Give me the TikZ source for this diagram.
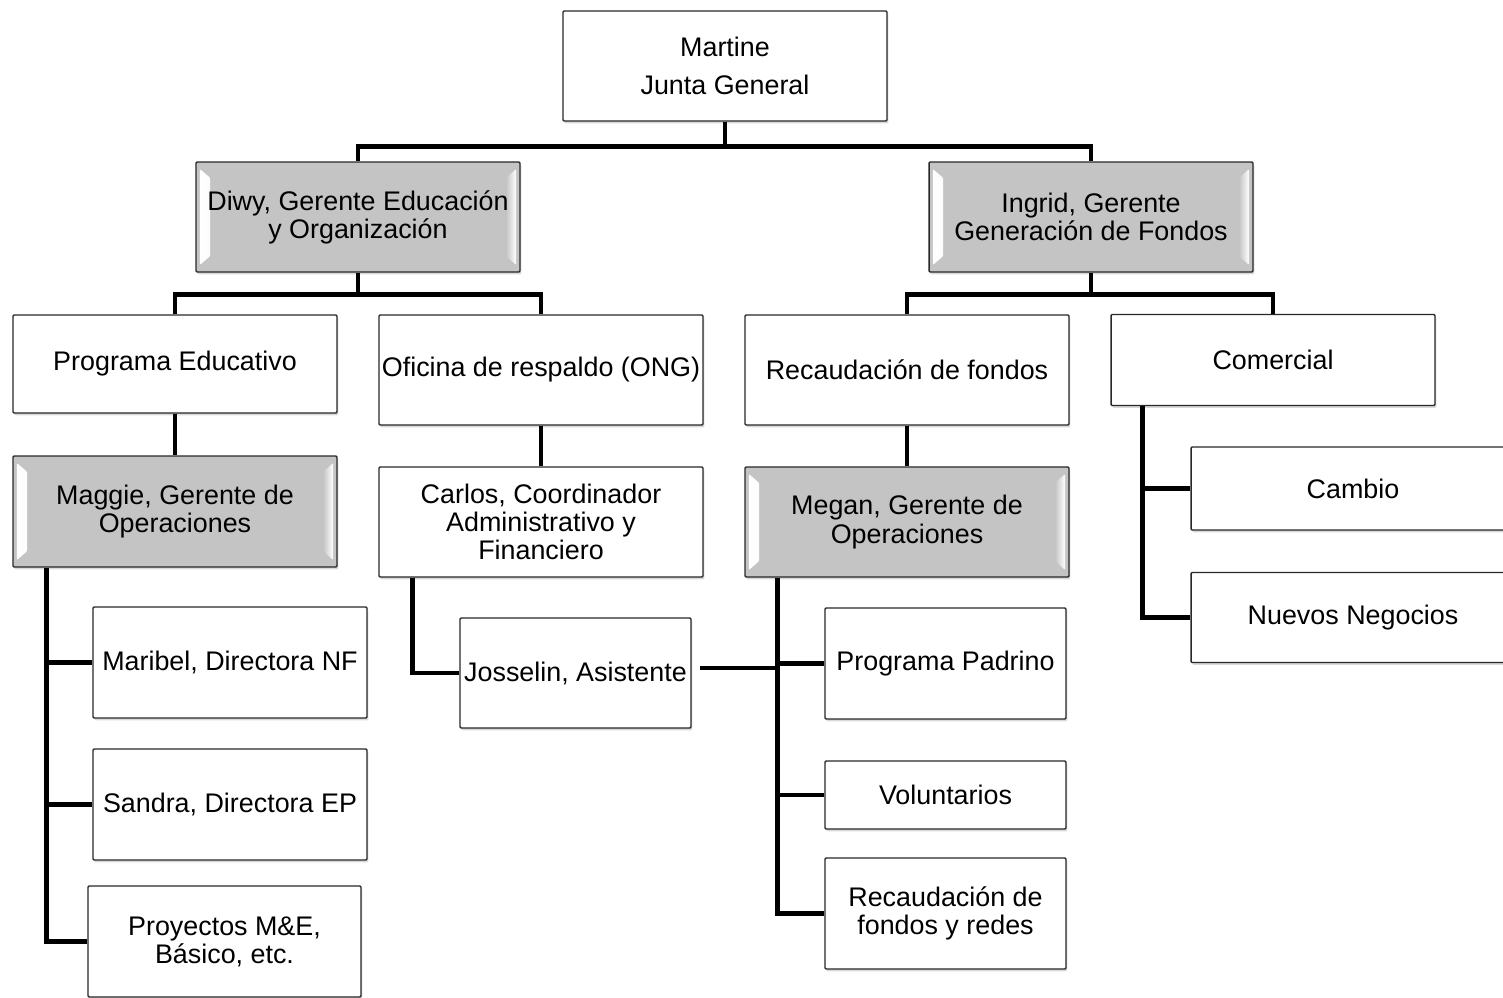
\documentclass[tikz,border=0pt]{standalone}
\usepackage{fontspec}
\setmainfont{Liberation Sans}
\usepackage{tikz}
\usetikzlibrary{calc,shadows,positioning}
\definecolor{boxgray}{RGB}{196,196,196}
\definecolor{boxline}{RGB}{40,40,40}
\tikzset{
orgbox/.style={draw=boxline, line width=0.8pt, rounded corners=0.6pt, fill=white, align=center, inner sep=1pt,
  font=\fontsize{15.3}{16}\selectfont,
  drop shadow={shadow xshift=0.8pt, shadow yshift=-1.3pt, opacity=0.3}},
leadbox/.style={orgbox, fill=boxgray,
  path picture={
    \shade[left color=white, right color=boxgray]
      ([xshift=2.2pt,yshift=-4pt]path picture bounding box.north west) -- ([xshift=8pt,yshift=-9pt]path picture bounding box.north west)
      -- ([xshift=8pt,yshift=9pt]path picture bounding box.south west) -- ([xshift=2.2pt,yshift=4pt]path picture bounding box.south west) -- cycle;
    \shade[left color=boxgray, right color=white]
      ([xshift=-2.2pt,yshift=-4pt]path picture bounding box.north east) -- ([xshift=-8pt,yshift=-9pt]path picture bounding box.north east)
      -- ([xshift=-8pt,yshift=9pt]path picture bounding box.south east) -- ([xshift=-2.2pt,yshift=4pt]path picture bounding box.south east) -- cycle;
  }},
conn/.style={draw=black, line width=2.8pt},
thinconn/.style={draw=black, line width=1.8pt}
}
\begin{document}
\begin{tikzpicture}[x=0.02cm, y=-0.02cm]
\clip (0,0) rectangle (1503,997);
% top level
\node[orgbox, minimum width=6.48cm, minimum height=2.2cm] (martine) at (725,66) {Martine\\[5.5pt]Junta General};
\node[leadbox, minimum width=6.48cm, minimum height=2.2cm] (diwy) at (358,217) {Diwy, Gerente Educación\\y Organización};
\node[leadbox, minimum width=6.48cm, minimum height=2.2cm] (ingrid) at (1091,217) {Ingrid, Gerente\\Generación de Fondos};
% departments
\node[orgbox, minimum width=6.48cm, minimum height=1.96cm] (prog) at (175,364) {Programa Educativo};
\node[orgbox, minimum width=6.48cm, minimum height=2.2cm] (ofic) at (541,370) {Oficina de respaldo (ONG)};
\node[orgbox, minimum width=6.48cm, minimum height=2.2cm] (recaud) at (907,370) {Recaudación de fondos};
\node[orgbox, minimum width=6.48cm, minimum height=1.82cm] (comer) at (1273,360) {Comercial};
\node[leadbox, minimum width=6.48cm, minimum height=2.22cm] (maggie) at (175,511.5) {Maggie, Gerente de\\Operaciones};
\node[orgbox, minimum width=6.48cm, minimum height=2.2cm] (carlos) at (541,522) {Carlos, Coordinador\\Administrativo y\\Financiero};
\node[leadbox, minimum width=6.48cm, minimum height=2.2cm] (megan) at (907,522) {Megan, Gerente de\\Operaciones};
\node[orgbox, minimum width=6.48cm, minimum height=1.66cm] (cambio) at (1353,488.5) {Cambio};
\node[orgbox, minimum width=6.48cm, minimum height=1.8cm] (nuevos) at (1353,617.5) {Nuevos Negocios};
% staff
\node[orgbox, minimum width=5.48cm, minimum height=2.22cm] (maribel) at (230,662.5) {Maribel, Directora NF};
\node[orgbox, minimum width=5.48cm, minimum height=2.22cm] (sandra) at (230,804.5) {Sandra, Directora EP};
\node[orgbox, minimum width=5.46cm, minimum height=2.22cm] (proy) at (224.5,941.5) {Proyectos M\&E,\\Básico, etc.};
\node[orgbox, minimum width=4.62cm, minimum height=2.2cm] (jos) at (575.5,673) {Josselin, Asistente};
\node[orgbox, minimum width=4.82cm, minimum height=2.22cm] (padrino) at (945.5,663.5) {Programa Padrino};
\node[orgbox, minimum width=4.82cm, minimum height=1.36cm] (volunt) at (945.5,795) {Voluntarios};
\node[orgbox, minimum width=4.82cm, minimum height=2.22cm] (redes) at (945.5,913.5) {Recaudación de\\fondos y redes};
% bus points
\coordinate (topbus) at ($(martine.south)+(0,25)$);
\coordinate (diwybus) at ($(diwy.south)+(0,22)$);
\coordinate (ingbus) at ($(ingrid.south)+(0,22)$);
\coordinate (magbus) at ($(maggie.south west)+(34,0)$);
\coordinate (carbus) at ($(carlos.south west)+(34,0)$);
\coordinate (megbus) at ($(megan.south west)+(33,0)$);
\coordinate (combus) at ($(comer.south west)+(32,0)$);
% connectors
\draw[conn] (martine) -- (topbus);
\draw[conn] (diwy.north) |- (topbus) -| (ingrid.north);
\draw[conn] (diwy) -- (diwybus);
\draw[conn] (prog.north) |- (diwybus) -| (ofic.north);
\draw[conn] (ingrid) -- (ingbus);
\draw[conn] (recaud.north) |- (ingbus) -| (comer.north);
\draw[conn] (prog) -- (maggie);
\draw[conn] (ofic) -- (carlos);
\draw[conn] (recaud) -- (megan);
\draw[conn] (magbus) |- (proy);
\draw[conn] (magbus |- maribel) -- (maribel);
\draw[conn] (magbus |- sandra) -- (sandra);
\draw[conn] (carbus) |- (jos);
\draw[conn] (megbus) |- (redes);
\draw[conn] (megbus |- padrino) -- (padrino);
\draw[conn] (megbus |- volunt) -- (volunt);
\draw[thinconn] ($(jos.east)+(8,-5)$) -- ($(jos.east -| megbus)+(0,-5)$);
\draw[conn] (combus) |- (nuevos);
\draw[conn] (combus |- cambio) -- (cambio);
\end{tikzpicture}
\end{document}
